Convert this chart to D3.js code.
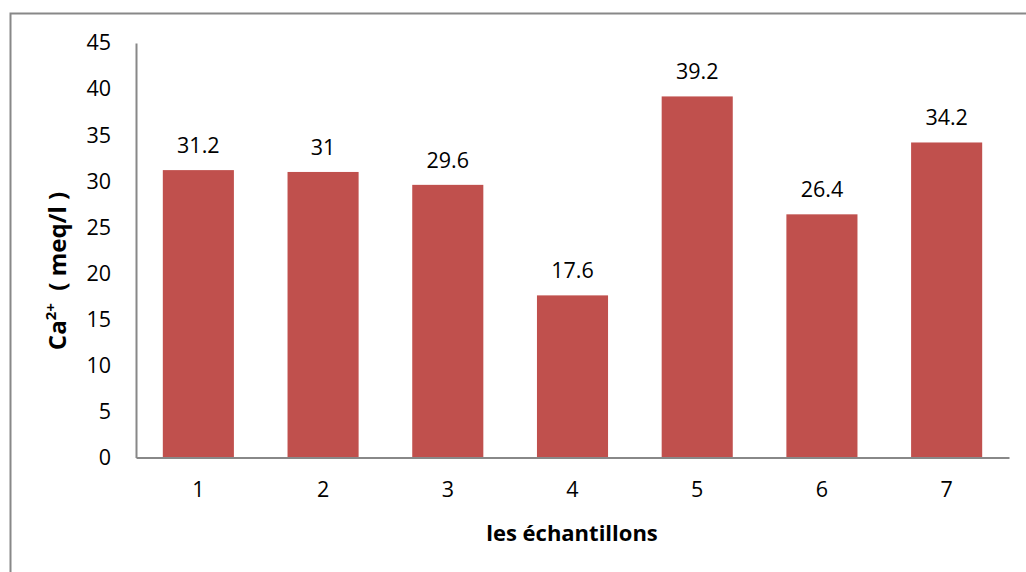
<!DOCTYPE html>
<html>
<head>
<meta charset="utf-8">
<script src="https://cdn.jsdelivr.net/npm/d3@7"></script>
<style>
  html, body { margin: 0; padding: 0; background: #fff; }
  svg { display: block; }
  text { font-family: "Open Sans", Lato, "DejaVu Sans", sans-serif; fill: #000; white-space: pre; }
</style>
</head>
<body>
<svg id="chart" width="1026" height="572"></svg>
<script>
const categories = ["1", "2", "3", "4", "5", "6", "7"];
const values = [31.2, 31, 29.6, 17.6, 39.2, 26.4, 34.2];
const yTicks = [0, 5, 10, 15, 20, 25, 30, 35, 40, 45];
const xTitle = "les échantillons";

(function () {
const svg = d3.select("#chart");
const plotLeft = 136, plotRight = 1009, plotTop = 43, plotBottom = 457.5;
const fs = 21.5;

// outer chart border
svg.append("rect")
  .attr("x", 10.5).attr("y", 13.5)
  .attr("width", 1100).attr("height", 700)
  .attr("fill", "none").attr("stroke", "#888").attr("stroke-width", 2);

const x = d3.scaleBand().domain(categories).range([plotLeft, plotRight]).paddingInner(0.43).paddingOuter(0.215);
const y = d3.scaleLinear().domain([0, 45]).range([plotBottom, plotTop]);

// bars
svg.append("g").selectAll("rect").data(values).join("rect")
  .attr("x", (d, i) => x(categories[i]))
  .attr("y", d => y(d))
  .attr("width", x.bandwidth())
  .attr("height", d => y(0) - y(d))
  .attr("fill", "#C0504D");

// data labels
svg.append("g").selectAll("text").data(values).join("text")
  .attr("x", (d, i) => x(categories[i]) + x.bandwidth() / 2)
  .attr("y", d => y(d) - 17)
  .attr("text-anchor", "middle")
  .attr("font-size", fs)
  .text(d => String(d));

// y axis
const yAxis = d3.axisLeft(y).tickValues(yTicks).tickSize(0).tickPadding(25).tickFormat(d3.format("d"));
const gy = svg.append("g").attr("transform", `translate(${plotLeft},0)`).call(yAxis);
gy.select(".domain").attr("stroke", "#888").attr("stroke-width", 2);
gy.selectAll("text").attr("font-size", fs).attr("font-family", "'Open Sans', Lato, sans-serif").attr("fill", "#000");

// x axis
const xAxis = d3.axisBottom(x).tickSize(0).tickPadding(24);
const gx = svg.append("g").attr("transform", `translate(0,${plotBottom})`).call(xAxis);
gx.select(".domain").attr("stroke", "#888").attr("stroke-width", 2);
gx.selectAll("text").attr("font-size", fs).attr("font-family", "'Open Sans', Lato, sans-serif").attr("fill", "#000");

// x title
svg.append("text")
  .attr("x", 572).attr("y", 541)
  .attr("text-anchor", "middle")
  .attr("font-size", 22).attr("font-weight", "bold")
  .text(xTitle);

// y title
const yt = svg.append("text")
  .attr("transform", "translate(66,271) rotate(-90)")
  .attr("text-anchor", "middle")
  .attr("font-size", 24).attr("font-weight", "bold");
yt.append("tspan").text("Ca");
yt.append("tspan").attr("dy", -10).attr("font-size", 15).text("2+");
yt.append("tspan").attr("dy", 10).text("  ( meq/l )");
})();
</script>
</body>
</html>
